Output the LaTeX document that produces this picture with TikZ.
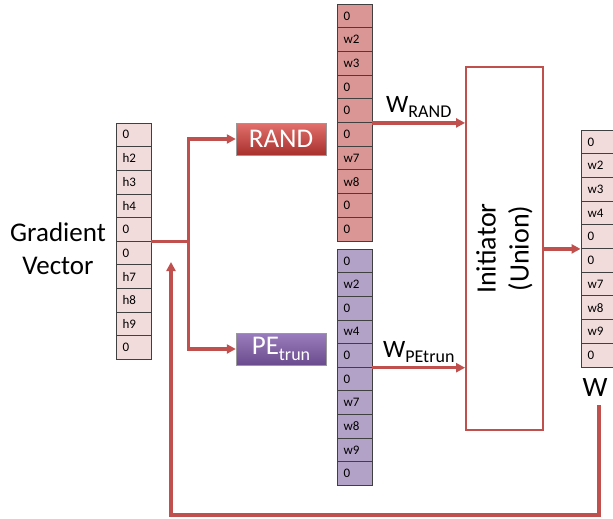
\documentclass[tikz,border=0pt]{standalone}
\usepackage{fontspec}
\setmainfont{Carlito}
\usetikzlibrary{arrows.meta,positioning,calc}
\definecolor{ln}{HTML}{C0504D}
\definecolor{rt}{HTML}{E2706C}
\definecolor{rb}{HTML}{A8302D}
\definecolor{pt}{HTML}{9A7DBE}
\definecolor{pb}{HTML}{6A4C8E}
\definecolor{rc}{HTML}{D99694}
\definecolor{pc}{HTML}{B3A2C7}
\definecolor{lc}{HTML}{F2DCDB}
\newcommand{\Sb}[1]{\raisebox{-0.45ex}{\fontsize{18}{18}\selectfont #1}}

\begin{document}
\begin{tikzpicture}[x=1pt,y=-1pt,
    cell/.style={draw=black!75, line width=0.9pt, minimum height=23.65pt,
      text width=22pt, inner xsep=6.5pt, inner ysep=0pt, align=left,
      font=\fontsize{13}{14}\selectfont},
    algo/.style={minimum width=90pt, minimum height=32pt, inner sep=0pt,
      text=white, font=\fontsize{27}{28}\selectfont, draw=black!40, line width=0.4pt},
    wire/.style={draw=ln, line width=3.2pt},
    link/.style={wire, -{Triangle[length=9pt,width=9pt]}},
    big/.style={font=\fontsize{28}{33}\selectfont, align=center}]
  \useasboundingbox (0,0) rectangle (613,519);

  % gradient vector and the two masks
  \foreach \v [count=\i] in {0,h2,h3,h4,0,0,h7,h8,h9,0}
    \node[cell, fill=lc] (gv\i) at (133.5,{123+(\i-0.5)*23.65}) {\v};
  \foreach \v [count=\i] in {0,w2,w3,0,0,0,w7,w8,0,0}
    \node[cell, fill=rc] (rc\i) at (354.5,{4+(\i-0.5)*23.7}) {\v};
  \foreach \v [count=\i] in {0,w2,0,w4,0,0,w7,w8,w9,0}
    \node[cell, fill=pc] (pc\i) at (354.5,{249+(\i-0.5)*23.65}) {\v};
  \foreach \v [count=\i] in {0,w2,w3,w4,0,0,w7,w8,w9,0}
    \node[cell, fill=lc] (wc\i) at (598.5,{130+(\i-0.5)*23.7}) {\v};

  \node[big, font=\fontsize{27}{33}\selectfont, anchor=east, inner sep=0pt]
    (gl) at (106,249) {Gradient\\Vector};
  \node[big, inner sep=0pt] (wl) at (595,388) {W};

  \node[algo, top color=rt, bottom color=rb] (rand) at (281,139) {RAND};
  \node[algo, top color=pt, bottom color=pb] (pe) at (281,349) {PE\Sb{trun}};

  \node[draw=ln, line width=1.8pt, minimum width=77pt, minimum height=363pt]
    (init) at (504.5,248.5) {};
  \node[big, rotate=90] at (init.center) {Initiator\\(Union)};

  % connectors
  \draw[wire] (gv5.south east) -- ++(37,0) coordinate (br);
  \draw[link] (br) |- (rand);
  \draw[link] (br) |- (pe);
  \draw[link] (rc5.south east) -- node[above, font=\fontsize{25}{26}\selectfont]
    {W\Sb{RAND}} (rc5.south east -| init.west);
  \draw[link] (pc5.south east) -- node[above, font=\fontsize{25}{26}\selectfont]
    {W\Sb{PEtrun}} (pc5.south east -| init.west);
  \draw[link] (init.east |- wc5.south west) -- (wc5.south west);

  % feedback loop
  \coordinate (lo) at (171,515);
  \coordinate (fb) at (171,262);
  \draw[link] ([xshift=4pt,yshift=-8pt]wl.south) |- (lo) -- (fb);
\end{tikzpicture}
\end{document}
